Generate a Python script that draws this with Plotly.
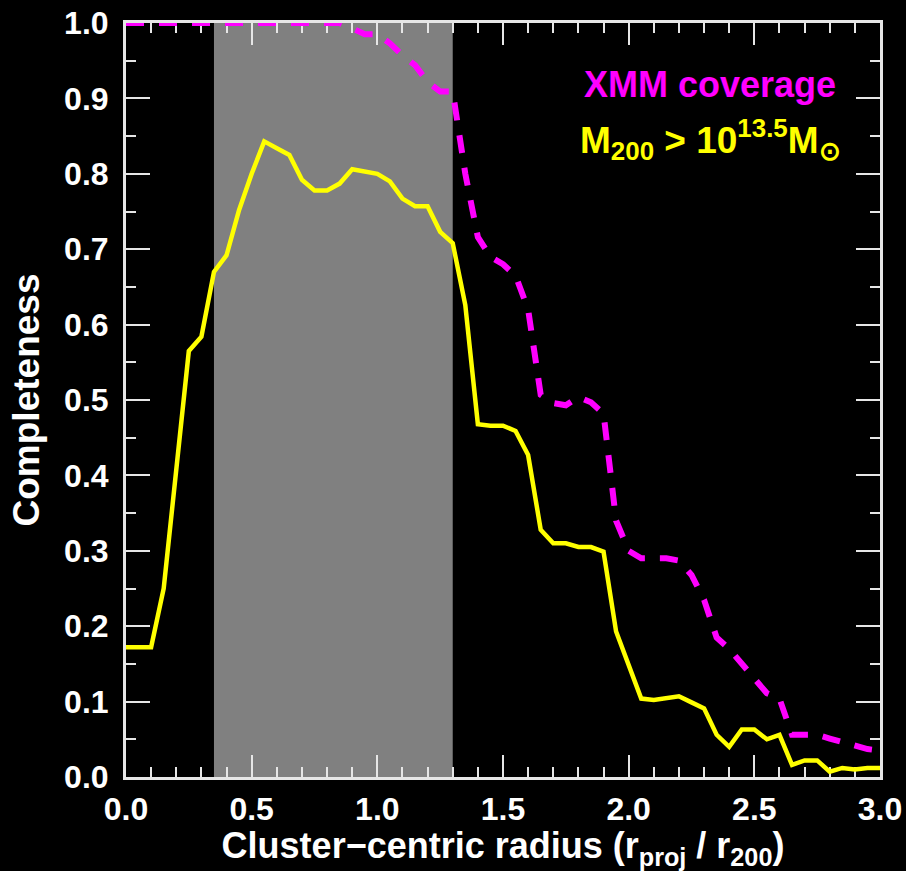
import plotly.graph_objects as go

# Radial bins (r_proj / r200)
radius = [0.00, 0.05, 0.10, 0.15, 0.20, 0.25, 0.30, 0.35, 0.40, 0.45,
          0.50, 0.55, 0.60, 0.65, 0.70, 0.75, 0.80, 0.85, 0.90, 0.95,
          1.00, 1.05, 1.10, 1.15, 1.20, 1.25, 1.30, 1.35, 1.40, 1.45,
          1.50, 1.55, 1.60, 1.65, 1.70, 1.75, 1.80, 1.85, 1.90, 1.95,
          2.00, 2.05, 2.10, 2.15, 2.20, 2.25, 2.30, 2.35, 2.40, 2.45,
          2.50, 2.55, 2.60, 2.65, 2.70, 2.75, 2.80, 2.85, 2.90, 2.95,
          3.00]

# Completeness for M200 > 10^13.5 Msun
completeness_mass = [0.172, 0.172, 0.172, 0.250, 0.410, 0.565, 0.584, 0.670, 0.692, 0.752,
                     0.800, 0.843, 0.834, 0.825, 0.792, 0.778, 0.778, 0.787, 0.806, 0.803,
                     0.800, 0.790, 0.767, 0.757, 0.757, 0.723, 0.708, 0.626, 0.468, 0.466,
                     0.466, 0.459, 0.427, 0.328, 0.310, 0.310, 0.305, 0.305, 0.299, 0.193,
                     0.147, 0.104, 0.102, 0.104, 0.107, 0.099, 0.091, 0.056, 0.040, 0.063,
                     0.063, 0.050, 0.056, 0.016, 0.022, 0.022, 0.007, 0.012, 0.010, 0.012,
                     0.012]

# XMM coverage fraction
coverage_xmm = [1.000, 1.000, 1.000, 1.000, 1.000, 1.000, 1.000, 1.000, 1.000, 1.000,
                1.000, 1.000, 1.000, 1.000, 1.000, 1.000, 1.000, 1.000, 0.993, 0.985,
                0.985, 0.973, 0.957, 0.944, 0.922, 0.909, 0.909, 0.800, 0.716, 0.690,
                0.680, 0.665, 0.620, 0.507, 0.496, 0.493, 0.504, 0.497, 0.482, 0.340,
                0.300, 0.290, 0.290, 0.290, 0.287, 0.268, 0.235, 0.185, 0.170, 0.150,
                0.130, 0.111, 0.104, 0.056, 0.056, 0.056, 0.051, 0.046, 0.042, 0.037,
                0.035]

# Shaded radial range
band_range = [0.35, 1.30]

FONT = "Liberation Sans, Arial, Helvetica, sans-serif"
FRAME = "#e6e6e6"

fig = go.Figure()

fig.add_trace(go.Scatter(
    x=radius, y=coverage_xmm, mode="lines",
    line=dict(color="#ff00ff", width=6, dash="18px,15px"),
    showlegend=False, cliponaxis=False,
))
fig.add_trace(go.Scatter(
    x=radius, y=completeness_mass, mode="lines",
    line=dict(color="#ffff00", width=4.5),
    showlegend=False,
))

fig.add_shape(
    type="rect", xref="x", yref="paper",
    x0=band_range[0], x1=band_range[1], y0=0, y1=1,
    fillcolor="#808080", line=dict(width=0), layer="below",
)

fig.add_annotation(
    xref="paper", yref="paper", x=0.944, y=0.918,
    xanchor="right", yanchor="middle", showarrow=False,
    text="<b>XMM coverage</b>",
    font=dict(family=FONT, size=36, color="#ff00ff"),
)
fig.add_annotation(
    xref="paper", yref="paper", x=0.951, y=0.845,
    xanchor="right", yanchor="middle", showarrow=False,
    text="<b>M<sub>200</sub> > 10<sup>13.5</sup>M<sub>⊙</sub></b>",
    font=dict(family=FONT, size=37, color="#ffff00"),
)

axis_common = dict(
    showgrid=False, zeroline=False, automargin=False,
    showline=True, linecolor=FRAME, linewidth=3, mirror="allticks",
    ticks="inside", tickcolor=FRAME, tickwidth=2,
    tickformat=".1f", layer="below traces",
    tickfont=dict(family=FONT, size=32, color="white", weight="bold"),
)

fig.update_xaxes(
    range=[0, 3], dtick=0.5, tick0=0, ticklen=22,
    minor=dict(dtick=0.1, ticks="inside", ticklen=10, tickcolor=FRAME, tickwidth=2),
    title=dict(text="<b>Cluster−centric radius (r<sub>proj</sub> / r<sub>200</sub>)</b>",
               font=dict(family=FONT, size=36, color="white"), standoff=4),
    ticklabelstandoff=2,
    **axis_common,
)
fig.update_yaxes(
    range=[0, 1], dtick=0.1, tick0=0, ticklen=24,
    minor=dict(dtick=0.05, ticks="inside", ticklen=10, tickcolor=FRAME, tickwidth=2),
    title=dict(text="<b>Completeness</b>",
               font=dict(family=FONT, size=37, color="white"), standoff=14),
    ticklabelstandoff=8,
    **axis_common,
)

fig.update_layout(
    width=906, height=871,
    margin=dict(l=126, r=26, t=23, b=94),
    paper_bgcolor="black", plot_bgcolor="black",
)

fig.write_html("out.html")
